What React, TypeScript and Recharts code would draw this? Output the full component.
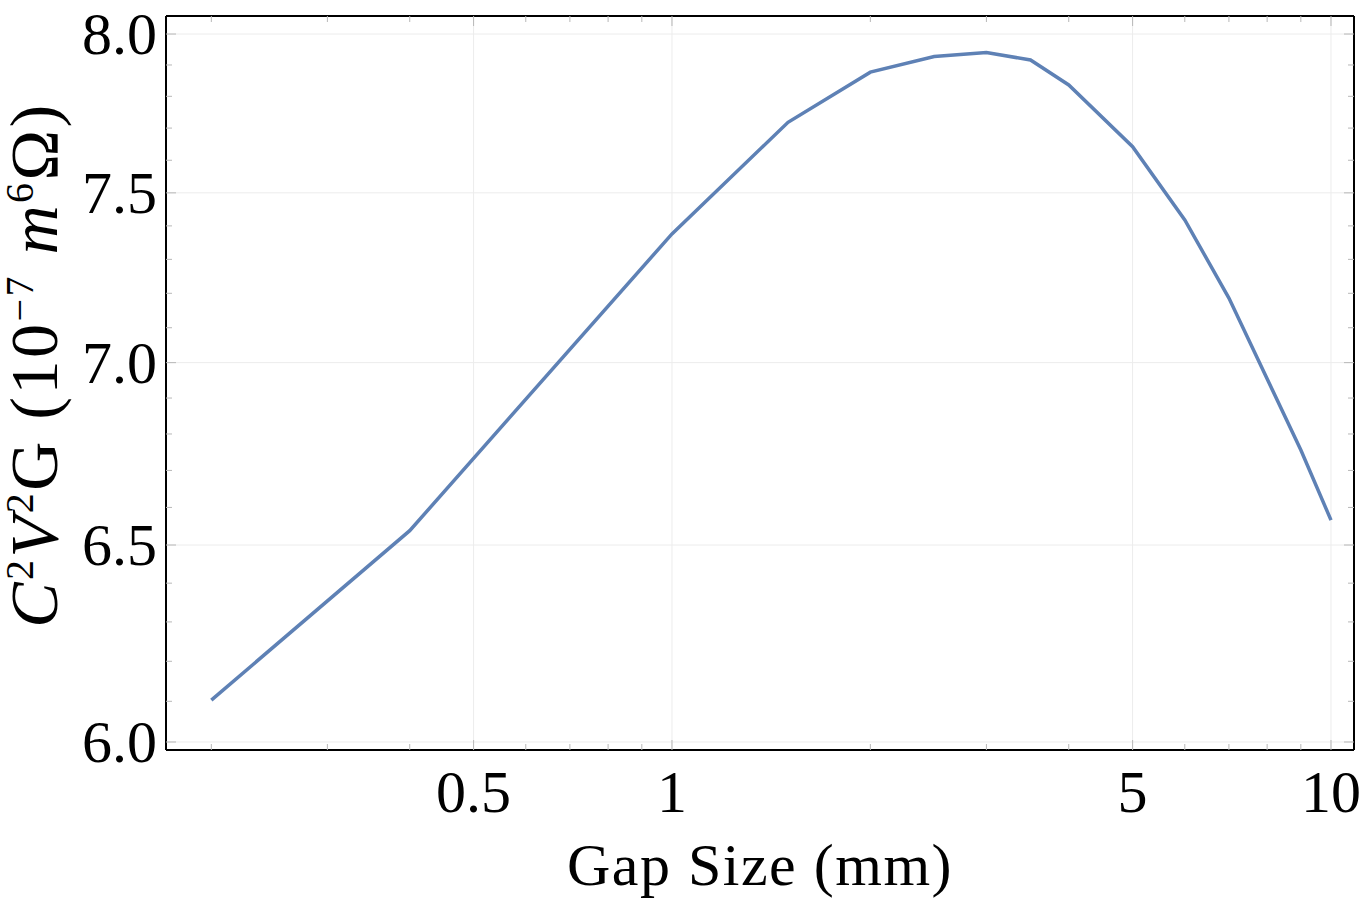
import React from "react";
import { LineChart, Line, XAxis, YAxis, ReferenceLine } from "recharts";

// Gap size (mm) and the corresponding C²V²G figure of merit (10⁻⁷ m⁶Ω)
const GAP_MM = [0.2, 0.4, 1, 1.5, 2, 2.5, 3, 3.5, 4, 5, 6, 7, 9, 10];
const FIGURE_OF_MERIT = [
  6.103, 6.538, 7.376, 7.718, 7.877, 7.927, 7.94, 7.916, 7.836, 7.642, 7.418,
  7.186, 6.756, 6.566,
];

// Frame ticks (log axes)
const X_MAJOR = [0.5, 1, 5, 10];
const X_MINOR = [0.2, 0.3, 0.4, 0.6, 0.7, 0.8, 0.9, 2, 3, 4, 6, 7, 8, 9];
const X_LABELS = ["0.5", "1", "5", "10"];
const Y_MAJOR = [6.0, 6.5, 7.0, 7.5, 8.0];
const Y_MINOR = [
  6.1, 6.2, 6.3, 6.4, 6.6, 6.7, 6.8, 6.9, 7.1, 7.2, 7.3, 7.4, 7.6, 7.7, 7.8,
  7.9,
];
const Y_LABELS = ["6.0", "6.5", "7.0", "7.5", "8.0"];

const X_DOMAIN: [number, number] = [0.1707, 10.837];
const Y_DOMAIN: [number, number] = [5.9805, 8.0588];

const data = GAP_MM.map((x, i) => ({ x, y: FIGURE_OF_MERIT[i] }));

const FONT = "'Liberation Serif', 'Times New Roman', serif";
const TICK_FONT_SIZE = 60;
const MAJOR_LEN = 10;
const MINOR_LEN = 6;
const TICK_COLOR = "#b8b8b8";
const GRID_COLOR = "#ececec";
const LINE_COLOR = "#5E81B5";

const isMajor = (list: number[], v: number) =>
  list.some((m) => Math.abs(m - v) < 1e-9);

type Side = "bottom" | "top" | "left" | "right";

function makeTick(side: Side) {
  return (props: any) => {
    const { x, y, payload } = props;
    const v = payload.value as number;
    const horizontal = side === "bottom" || side === "top";
    const major = isMajor(horizontal ? X_MAJOR : Y_MAJOR, v);
    const len = major ? MAJOR_LEN : MINOR_LEN;
    let line;
    if (side === "bottom") line = <line x1={x} x2={x} y1={y} y2={y - len} />;
    else if (side === "top") line = <line x1={x} x2={x} y1={y} y2={y + len} />;
    else if (side === "left") line = <line x1={x} x2={x + len} y1={y} y2={y} />;
    else line = <line x1={x} x2={x - len} y1={y} y2={y} />;

    let label = null;
    if (major && side === "bottom") {
      const idx = X_MAJOR.findIndex((m) => Math.abs(m - v) < 1e-9);
      label = (
        <text
          x={x}
          y={y + 62}
          textAnchor="middle"
          fontFamily={FONT}
          fontSize={TICK_FONT_SIZE}
          fill="#000"
        >
          {X_LABELS[idx]}
        </text>
      );
    } else if (major && side === "left") {
      const idx = Y_MAJOR.findIndex((m) => Math.abs(m - v) < 1e-9);
      label = (
        <text
          x={x - 9}
          y={y + 20}
          textAnchor="end"
          fontFamily={FONT}
          fontSize={TICK_FONT_SIZE}
          fill="#000"
        >
          {Y_LABELS[idx]}
        </text>
      );
    }
    return (
      <g>
        <g stroke={TICK_COLOR} strokeWidth={1}>
          {line}
        </g>
        {label}
      </g>
    );
  };
}

const XLabel = () => (
  <text
    x={760}
    y={885}
    textAnchor="middle"
    fontFamily={FONT}
    fontSize={60}
    letterSpacing={1.5}
    fill="#000"
  >
    Gap Size (mm)
  </text>
);

const SUP_SIZE = 40;
const SUP_SHIFT = 24;

const YLabel = () => (
  <text
    transform="translate(57,365) rotate(-90)"
    textAnchor="middle"
    fontFamily={FONT}
    fontSize={68}
    letterSpacing={2.5}
    fill="#000"
  >
    <tspan fontStyle="italic">C</tspan>
    <tspan fontSize={SUP_SIZE} dy={-SUP_SHIFT}>2</tspan>
    <tspan fontStyle="italic" dy={SUP_SHIFT}>V</tspan>
    <tspan fontSize={SUP_SIZE} dy={-SUP_SHIFT}>2</tspan>
    <tspan dy={SUP_SHIFT}>G (10</tspan>
    <tspan fontSize={SUP_SIZE} dy={-SUP_SHIFT}>−7</tspan>
    <tspan dy={SUP_SHIFT}> </tspan>
    <tspan fontStyle="italic">m</tspan>
    <tspan fontSize={SUP_SIZE} dy={-SUP_SHIFT}>6</tspan>
    <tspan dy={SUP_SHIFT}>Ω)</tspan>
  </text>
);

const X_TICKS = [...X_MINOR, ...X_MAJOR].sort((a, b) => a - b);
const Y_TICKS = [...Y_MINOR, ...Y_MAJOR].sort((a, b) => a - b);
const FRAME = { stroke: "#000", strokeWidth: 2 };

export default function App() {
  return (
    <div
      style={{
        position: "absolute",
        left: 0,
        top: 0,
        width: 1365,
        height: 909,
        background: "#fff",
        overflow: "hidden",
      }}
    >
      <LineChart
        width={1365}
        height={909}
        data={data}
        margin={{ top: 15, right: 10, bottom: 0, left: 0 }}
      >
        <XAxis
          dataKey="x"
          type="number"
          scale="log"
          domain={X_DOMAIN}
          allowDataOverflow
          ticks={X_TICKS}
          interval={0}
          tick={makeTick("bottom")}
          tickLine={false}
          tickSize={0}
          tickMargin={0}
          axisLine={FRAME}
          height={159}
          label={{ content: () => <XLabel /> }}
        />
        <XAxis
          xAxisId="top"
          orientation="top"
          dataKey="x"
          type="number"
          scale="log"
          domain={X_DOMAIN}
          allowDataOverflow
          ticks={X_TICKS}
          interval={0}
          tick={makeTick("top")}
          tickLine={false}
          tickSize={0}
          tickMargin={0}
          axisLine={FRAME}
          height={1}
        />
        <YAxis
          type="number"
          scale="log"
          domain={Y_DOMAIN}
          allowDataOverflow
          ticks={Y_TICKS}
          interval={0}
          tick={makeTick("left")}
          tickLine={false}
          tickSize={0}
          tickMargin={0}
          axisLine={FRAME}
          width={166}
          label={{ content: () => <YLabel /> }}
        />
        <YAxis
          yAxisId="right"
          orientation="right"
          type="number"
          scale="log"
          domain={Y_DOMAIN}
          allowDataOverflow
          ticks={Y_TICKS}
          interval={0}
          tick={makeTick("right")}
          tickLine={false}
          tickSize={0}
          tickMargin={0}
          axisLine={FRAME}
          width={1}
        />
        {X_MAJOR.map((v) => (
          <ReferenceLine
            key={`gx${v}`}
            x={v}
            stroke={GRID_COLOR}
            strokeWidth={1}
          />
        ))}
        {Y_MAJOR.map((v) => (
          <ReferenceLine
            key={`gy${v}`}
            y={v}
            stroke={GRID_COLOR}
            strokeWidth={1}
          />
        ))}
        {/* binds the mirrored top/right frame axes to the data */}
        <Line
          xAxisId="top"
          yAxisId="right"
          type="linear"
          dataKey="y"
          stroke="none"
          strokeOpacity={0}
          dot={false}
          activeDot={false}
          legendType="none"
          isAnimationActive={false}
        />
        <Line
          type="linear"
          dataKey="y"
          stroke={LINE_COLOR}
          strokeWidth={3.5}
          dot={false}
          activeDot={false}
          isAnimationActive={false}
        />
      </LineChart>
    </div>
  );
}
